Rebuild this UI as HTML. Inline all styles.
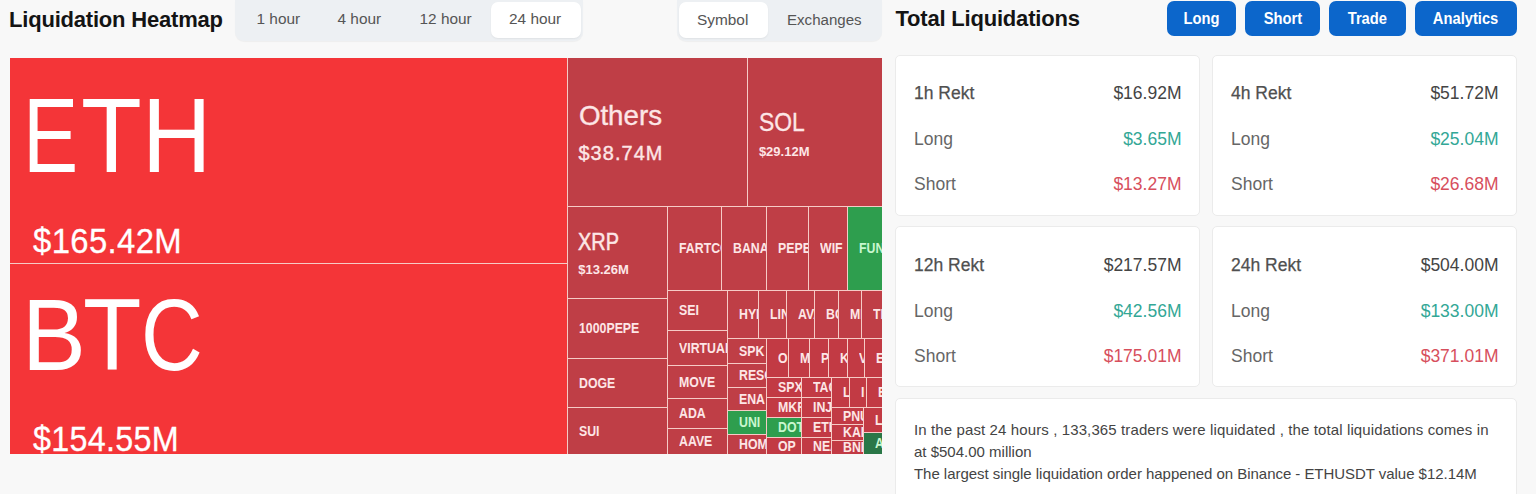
<!DOCTYPE html>
<html><head><meta charset="utf-8">
<style>
*{margin:0;padding:0;box-sizing:border-box}
html,body{width:1536px;height:494px;overflow:hidden;background:#f8f8f8;font-family:"Liberation Sans",sans-serif}
.t{position:absolute;white-space:nowrap;line-height:1;transform-origin:0 0;color:#fff}
.title{position:absolute;font-weight:bold;font-size:22px;letter-spacing:-0.2px;line-height:1;color:#141414;white-space:nowrap;transform-origin:0 0}
.tabs{position:absolute;background:#edf0f3;border-radius:9px;box-shadow:0 1px 1px rgba(0,0,0,0.04)}
.tab{position:absolute;font-size:15.4px;line-height:1;color:#555;white-space:nowrap}
.pill{position:absolute;background:#fff;border-radius:7px;box-shadow:0 1px 2px rgba(0,0,0,0.06)}
.btn{position:absolute;top:1px;height:35px;background:#0c66cb;border-radius:7px;color:#fff;font-weight:bold;font-size:16px;text-align:center;line-height:36px}
.btn span{display:inline-block;transform:scaleX(0.92)}
.card{position:absolute;background:#fff;border:1px solid #ebebeb;border-radius:5px}
.row{position:absolute;left:18px;right:17.5px;height:18px;font-size:17.5px;line-height:1;color:#666}
.row .k{position:absolute;left:0;top:0;white-space:nowrap}
.row .v{position:absolute;right:0;top:0;white-space:nowrap}
.hd .k{color:#505050;-webkit-text-stroke:0.25px #505050}
.hd .v{color:#444}
.g{color:#33a796}
.r{color:#d74f5d}
#tm{position:absolute;left:10px;top:58px;width:872px;height:396px;background:#f6cbc6;overflow:hidden}
.c{position:absolute;overflow:hidden}
.l{position:absolute;left:10.5px;top:0px;font-size:14.5px;font-weight:bold;white-space:nowrap;transform:scaleX(0.85);transform-origin:0 50%}
.info{position:absolute;font-size:15px;color:#444;line-height:22.4px;white-space:nowrap}
</style></head><body>
<div class="title" style="left:9px;top:8.5px">Liquidation Heatmap</div>
<div class="tabs" style="left:235px;top:-8px;width:348px;height:48.5px"></div>
<div class="pill" style="left:491px;top:2px;width:90px;height:35.5px"></div>
<div class="tab" style="left:256.5px;top:11.2px">1 hour</div>
<div class="tab" style="left:337.5px;top:11.2px">4 hour</div>
<div class="tab" style="left:419.5px;top:11.2px">12 hour</div>
<div class="tab" style="left:509px;top:11.2px">24 hour</div>

<div class="tabs" style="left:677px;top:-8px;width:205px;height:48.5px"></div>
<div class="pill" style="left:678.5px;top:2px;width:89.5px;height:35.5px"></div>
<div class="tab" style="left:697px;top:11.6px">Symbol</div>
<div class="tab" style="left:787px;top:11.6px;transform:scaleX(0.98);transform-origin:0 0">Exchanges</div>

<div class="title" style="left:895.5px;top:7.7px">Total Liquidations</div>
<div class="btn" style="left:1167px;width:69px"><span>Long</span></div>
<div class="btn" style="left:1245px;width:75px"><span>Short</span></div>
<div class="btn" style="left:1329px;width:77px"><span>Trade</span></div>
<div class="btn" style="left:1415px;width:102px"><span>Analytics</span></div>

<div id="tm">
<div class="c" style="left:0;top:0;width:557px;height:205px;background:#f43538"></div>
<div class="c" style="left:0;top:206px;width:557px;height:190px;background:#f43538"></div>
<div class="c" style="left:558px;top:0;width:179px;height:148px;background:#bf3e46"></div>
<div class="c" style="left:738px;top:0;width:134px;height:148px;background:#bf3e46"></div>
<div class="c" style="left:558px;top:149px;width:99px;height:91px;background:#bf3e46"></div>
<div class="c" style="left:558px;top:241px;width:99px;height:59px;background:#bf3e46"><span class="l" style="line-height:59px;color:#fde6e6">1000PEPE</span></div>
<div class="c" style="left:558px;top:301px;width:99px;height:48px;background:#bf3e46"><span class="l" style="line-height:48px;color:#fde6e6">DOGE</span></div>
<div class="c" style="left:558px;top:350px;width:99px;height:46px;background:#bf3e46"><span class="l" style="line-height:46px;color:#fde6e6">SUI</span></div>
<div class="c" style="left:658px;top:149px;width:53px;height:83px;background:#bf3e46"><span class="l" style="line-height:83px;color:#fde6e6">FARTCOIN</span></div>
<div class="c" style="left:712px;top:149px;width:44px;height:83px;background:#bf3e46"><span class="l" style="line-height:83px;color:#fde6e6">BANANA</span></div>
<div class="c" style="left:757px;top:149px;width:41px;height:83px;background:#bf3e46"><span class="l" style="line-height:83px;color:#fde6e6">PEPE</span></div>
<div class="c" style="left:799px;top:149px;width:38px;height:83px;background:#bf3e46"><span class="l" style="line-height:83px;color:#fde6e6">WIF</span></div>
<div class="c" style="left:838px;top:149px;width:34px;height:83px;background:#2e9e4e"><span class="l" style="line-height:83px;color:#c9f7cf">FUN</span></div>
<div class="c" style="left:658px;top:233px;width:59px;height:39px;background:#bf3e46"><span class="l" style="line-height:39px;color:#fde6e6">SEI</span></div>
<div class="c" style="left:658px;top:273px;width:59px;height:34px;background:#bf3e46"><span class="l" style="line-height:34px;color:#fde6e6">VIRTUAL</span></div>
<div class="c" style="left:658px;top:308px;width:59px;height:32px;background:#bf3e46"><span class="l" style="line-height:32px;color:#fde6e6">MOVE</span></div>
<div class="c" style="left:658px;top:341px;width:59px;height:29px;background:#bf3e46"><span class="l" style="line-height:29px;color:#fde6e6">ADA</span></div>
<div class="c" style="left:658px;top:371px;width:59px;height:25px;background:#bf3e46"><span class="l" style="line-height:25px;color:#fde6e6">AAVE</span></div>
<div class="c" style="left:718px;top:233px;width:30px;height:47px;background:#bf3e46"><span class="l" style="line-height:47px;color:#fde6e6">HYPE</span></div>
<div class="c" style="left:749px;top:233px;width:27px;height:47px;background:#bf3e46"><span class="l" style="line-height:47px;color:#fde6e6">LINK</span></div>
<div class="c" style="left:777px;top:233px;width:27px;height:47px;background:#bf3e46"><span class="l" style="line-height:47px;color:#fde6e6">AVAX</span></div>
<div class="c" style="left:805px;top:233px;width:23px;height:47px;background:#bf3e46"><span class="l" style="line-height:47px;color:#fde6e6">BCH</span></div>
<div class="c" style="left:829px;top:233px;width:22px;height:47px;background:#bf3e46"><span class="l" style="line-height:47px;color:#fde6e6">MKR</span></div>
<div class="c" style="left:852px;top:233px;width:20px;height:47px;background:#bf3e46"><span class="l" style="line-height:47px;color:#fde6e6">TRX</span></div>
<div class="c" style="left:718px;top:281px;width:38px;height:24px;background:#bf3e46"><span class="l" style="line-height:24px;color:#fde6e6">SPK</span></div>
<div class="c" style="left:718px;top:306px;width:38px;height:23px;background:#bf3e46"><span class="l" style="line-height:23px;color:#fde6e6">RESOLV</span></div>
<div class="c" style="left:718px;top:330px;width:38px;height:22px;background:#bf3e46"><span class="l" style="line-height:22px;color:#fde6e6">ENA</span></div>
<div class="c" style="left:718px;top:353px;width:38px;height:23px;background:#2e9e4e"><span class="l" style="line-height:23px;color:#c9f7cf">UNI</span></div>
<div class="c" style="left:718px;top:377px;width:38px;height:19px;background:#bf3e46"><span class="l" style="line-height:19px;color:#fde6e6">HOME</span></div>
<div class="c" style="left:757px;top:281px;width:21px;height:38px;background:#c23a44"><span class="l" style="line-height:38px;color:#fde6e6">O</span></div>
<div class="c" style="left:779px;top:281px;width:20px;height:38px;background:#c23a44"><span class="l" style="line-height:38px;color:#fde6e6">M</span></div>
<div class="c" style="left:800px;top:281px;width:18px;height:38px;background:#c23a44"><span class="l" style="line-height:38px;color:#fde6e6">P</span></div>
<div class="c" style="left:819px;top:281px;width:18px;height:38px;background:#c23a44"><span class="l" style="line-height:38px;color:#fde6e6">K</span></div>
<div class="c" style="left:838px;top:281px;width:16px;height:38px;background:#c23a44"><span class="l" style="line-height:38px;color:#fde6e6">V</span></div>
<div class="c" style="left:855px;top:281px;width:17px;height:38px;background:#c23a44"><span class="l" style="line-height:38px;color:#fde6e6">E</span></div>
<div class="c" style="left:757px;top:320px;width:34px;height:19px;background:#c23a44"><span class="l" style="line-height:19px;color:#fde6e6">SPX</span></div>
<div class="c" style="left:792px;top:320px;width:29px;height:19px;background:#c23a44"><span class="l" style="line-height:19px;color:#fde6e6">TAO</span></div>
<div class="c" style="left:757px;top:340px;width:34px;height:19px;background:#c23a44"><span class="l" style="line-height:19px;color:#fde6e6">MKR</span></div>
<div class="c" style="left:792px;top:340px;width:29px;height:19px;background:#c23a44"><span class="l" style="line-height:19px;color:#fde6e6">INJ</span></div>
<div class="c" style="left:757px;top:360px;width:34px;height:19px;background:#2e9e4e"><span class="l" style="line-height:19px;color:#c9f7cf">DOT</span></div>
<div class="c" style="left:792px;top:360px;width:29px;height:19px;background:#c23a44"><span class="l" style="line-height:19px;color:#fde6e6">ETHFI</span></div>
<div class="c" style="left:757px;top:380px;width:34px;height:16px;background:#c23a44"><span class="l" style="line-height:16px;color:#fde6e6">OP</span></div>
<div class="c" style="left:792px;top:380px;width:29px;height:16px;background:#c23a44"><span class="l" style="line-height:16px;color:#fde6e6">NEAR</span></div>
<div class="c" style="left:822px;top:320px;width:17px;height:29px;background:#c23a44"><span class="l" style="line-height:29px;color:#fde6e6">L</span></div>
<div class="c" style="left:840px;top:320px;width:16px;height:29px;background:#c23a44"><span class="l" style="line-height:29px;color:#fde6e6">I</span></div>
<div class="c" style="left:857px;top:320px;width:15px;height:29px;background:#c23a44"><span class="l" style="line-height:29px;color:#fde6e6">E</span></div>
<div class="c" style="left:822px;top:350px;width:31px;height:16px;background:#c23a44"><span class="l" style="line-height:16px;color:#fde6e6">PNUT</span></div>
<div class="c" style="left:822px;top:367px;width:31px;height:15px;background:#c23a44"><span class="l" style="line-height:15px;color:#fde6e6">KAITO</span></div>
<div class="c" style="left:822px;top:383px;width:31px;height:13px;background:#c23a44"><span class="l" style="line-height:13px;color:#fde6e6">BNB</span></div>
<div class="c" style="left:854px;top:350px;width:18px;height:24px;background:#c23a44"><span class="l" style="line-height:24px;color:#fde6e6">LDO</span></div>
<div class="c" style="left:854px;top:375px;width:18px;height:21px;background:#2a7747"><span class="l" style="line-height:21px;color:#c9f7cf">A</span></div>
<div class="t" style="left:13.1px;top:25.1px;font-size:105.8px;transform:scaleX(0.782);">E</div>
<div class="t" style="left:70.9px;top:25.1px;font-size:105.8px;transform:scaleX(0.94);">T</div>
<div class="t" style="left:132.2px;top:25.1px;font-size:105.8px;transform:scaleX(0.908);">H</div>
<div class="t" style="left:22.8px;top:166.2px;font-size:35.9px;transform:scaleX(0.915);letter-spacing:0.4px;-webkit-text-stroke:0.3px #fff">$165.42M</div>
<div class="t" style="left:12.1px;top:225.8px;font-size:101.4px;transform:scaleX(0.944);">B</div>
<div class="t" style="left:73.4px;top:225.8px;font-size:101.4px;transform:scaleX(0.943);">T</div>
<div class="t" style="left:130.8px;top:225.8px;font-size:101.4px;transform:scaleX(0.844);">C</div>
<div class="t" style="left:23.3px;top:363.5px;font-size:34.6px;transform:scaleX(0.934);letter-spacing:0.3px;-webkit-text-stroke:0.3px #fff">$154.55M</div>
<div class="t" style="left:568.9px;top:44.3px;font-size:27.7px;color:#fde6e6;-webkit-text-stroke:0.35px #fde6e6">Others</div>
<div class="t" style="left:568.4px;top:86.0px;font-size:19.9px;color:#fde6e6;letter-spacing:1.1px;-webkit-text-stroke:0.4px #fde6e6">$38.74M</div>
<div class="t" style="left:748.6px;top:51.5px;font-size:25.4px;transform:scaleX(0.9);color:#fde6e6;-webkit-text-stroke:0.3px #fde6e6">SOL</div>
<div class="t" style="left:748.9px;top:86.6px;font-size:13px;color:#fde6e6;font-weight:bold">$29.12M</div>
<div class="t" style="left:568.2px;top:172.7px;font-size:23px;transform:scaleX(0.865);color:#fde6e6;-webkit-text-stroke:0.5px #fde6e6">XRP</div>
<div class="t" style="left:568.2px;top:205.3px;font-size:13px;color:#fde6e6;font-weight:bold">$13.26M</div>
</div>

<div class="card" style="left:895px;top:55px;width:305px;height:161px">
 <div class="row hd" style="top:29.0px"><span class="k">1h Rekt</span><span class="v">$16.92M</span></div>
 <div class="row" style="top:75.1px"><span class="k">Long</span><span class="v g">$3.65M</span></div>
 <div class="row" style="top:120.3px"><span class="k">Short</span><span class="v r">$13.27M</span></div>
</div>
<div class="card" style="left:1212px;top:55px;width:305px;height:161px">
 <div class="row hd" style="top:29.0px"><span class="k">4h Rekt</span><span class="v">$51.72M</span></div>
 <div class="row" style="top:75.1px"><span class="k">Long</span><span class="v g">$25.04M</span></div>
 <div class="row" style="top:120.3px"><span class="k">Short</span><span class="v r">$26.68M</span></div>
</div>
<div class="card" style="left:895px;top:226px;width:305px;height:161px">
 <div class="row hd" style="top:29.8px"><span class="k">12h Rekt</span><span class="v">$217.57M</span></div>
 <div class="row" style="top:75.9px"><span class="k">Long</span><span class="v g">$42.56M</span></div>
 <div class="row" style="top:121.1px"><span class="k">Short</span><span class="v r">$175.01M</span></div>
</div>
<div class="card" style="left:1212px;top:226px;width:305px;height:161px">
 <div class="row hd" style="top:29.8px"><span class="k">24h Rekt</span><span class="v">$504.00M</span></div>
 <div class="row" style="top:75.9px"><span class="k">Long</span><span class="v g">$133.00M</span></div>
 <div class="row" style="top:121.1px"><span class="k">Short</span><span class="v r">$371.01M</span></div>
</div>
<div class="card" style="left:895px;top:398px;width:622px;height:110px">
 <div class="info" style="left:18px;top:19.6px"><div style="letter-spacing:0.115px">In the past 24 hours , 133,365 traders were liquidated , the total liquidations comes in</div><div>at $504.00 million</div><div style="letter-spacing:-0.04px">The largest single liquidation order happened on Binance - ETHUSDT value $12.14M</div></div>
</div>
</body></html>
